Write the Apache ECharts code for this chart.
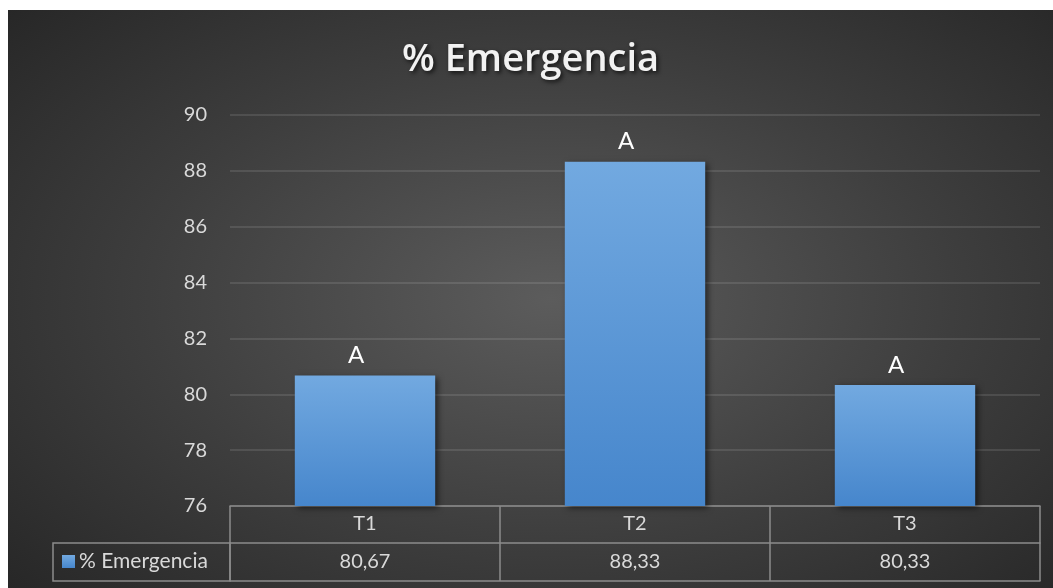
<!DOCTYPE html>
<html>
<head>
<meta charset="utf-8">
<script src="https://cdn.jsdelivr.net/npm/echarts@6/dist/echarts.min.js"></script>
<style>
  html, body { margin: 0; padding: 0; background: #ffffff; }
  #chart {
    position: absolute; left: 8px; top: 10px; width: 1045px; height: 578px;
    background: radial-gradient(ellipse 70% 75% at 52% 50%, #5c5c5c 0%, #3e3e3e 55%, #272727 100%);
  }
</style>
</head>
<body>
<div id="chart"></div>
<script>
// Emergence percentage per treatment
const categories = ['T1', 'T2', 'T3'];
const emergencia = [80.67, 88.33, 80.33];
const letters = ['A', 'A', 'A'];
const seriesName = '% Emergencia';
const yTicks = { min: 76, max: 90, interval: 2 };

const fmt = v => v.toFixed(2).replace('.', ',');
const lineColor = '#8c8c8c';
const textColor = '#d9d9d9';
const font = 'Lato, "Open Sans", sans-serif';

const chart = echarts.init(document.getElementById('chart'), null, { renderer: 'canvas' });

chart.setOption({
  backgroundColor: 'transparent',
  title: {
    text: seriesName,
    left: 'center',
    top: 26,
    textStyle: {
      color: '#f2f2f2', fontSize: 38, fontWeight: 600, fontFamily: '"Open Sans", sans-serif',
      textShadowColor: 'rgba(0,0,0,0.7)', textShadowBlur: 4, textShadowOffsetX: 2, textShadowOffsetY: 2
    }
  },
  legend: {
    data: [seriesName],
    left: 54, top: 541, padding: 0,
    icon: 'rect', itemWidth: 13, itemHeight: 13, itemGap: 4,
    textStyle: { color: textColor, fontSize: 21, fontFamily: font, padding: [0, 0, 0, -1] }
  },
  grid: { left: 222, right: 13, top: 105, bottom: 82, containLabel: false },
  xAxis: [
    {
      type: 'category', data: categories,
      axisLine: { show: true, lineStyle: { color: lineColor, width: 1.5 } },
      axisTick: { show: true, length: 75, alignWithLabel: false, lineStyle: { color: lineColor, width: 1.5 } },
      axisLabel: { color: textColor, fontSize: 20, fontFamily: font, margin: 8 }
    },
    {
      type: 'category', data: emergencia.map(fmt), position: 'bottom', offset: 37,
      axisLine: { show: true, lineStyle: { color: lineColor, width: 1.5 } },
      axisTick: { show: false },
      axisLabel: { color: textColor, fontSize: 20, fontFamily: font, margin: 9 }
    },
    {
      type: 'category', data: categories, position: 'bottom', offset: 75,
      axisLine: { show: true, lineStyle: { color: lineColor, width: 1.5 } },
      axisTick: { show: false },
      axisLabel: { show: false }
    }
  ],
  yAxis: {
    type: 'value', min: yTicks.min, max: yTicks.max, interval: yTicks.interval,
    axisLine: { show: false }, axisTick: { show: false },
    axisLabel: { color: textColor, fontSize: 20, fontFamily: font, margin: 23 },
    splitLine: { lineStyle: { color: 'rgba(255,255,255,0.14)', width: 1.5 } }
  },
  series: [{
    name: seriesName,
    type: 'bar',
    xAxisIndex: 0,
    data: emergencia,
    barWidth: '52%',
    itemStyle: {
      color: new echarts.graphic.LinearGradient(0, 0, 0, 1, [
        { offset: 0, color: '#72a9e0' },
        { offset: 1, color: '#4686cc' }
      ]),
      shadowColor: 'rgba(0,0,0,0.55)', shadowBlur: 6, shadowOffsetX: 3, shadowOffsetY: 2
    },
    label: {
      show: true, position: 'top', distance: 8, offset: [-9, 0],
      formatter: p => letters[p.dataIndex],
      color: '#ffffff', fontSize: 24, fontFamily: font
    }
  }],
  graphic: [{
    type: 'rect',
    shape: { x: 45, y: 533, width: 177, height: 38 },
    style: { fill: 'none', stroke: lineColor, lineWidth: 1.5 },
    silent: true
  }]
});
</script>
</body>
</html>
